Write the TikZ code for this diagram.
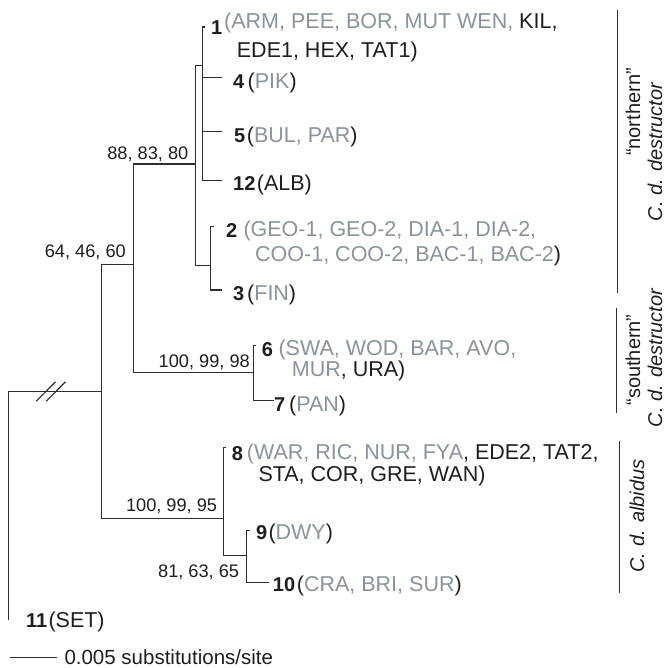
\documentclass[tikz,border=0pt]{standalone}
\usepackage{fontspec}
\setmainfont{Liberation Sans}
\definecolor{tg}{RGB}{136,147,156}
\definecolor{tk}{RGB}{30,30,30}
\definecolor{ln}{RGB}{45,45,45}
\newcommand{\gy}[1]{\textcolor{tg}{#1}}
\begin{document}
\begin{tikzpicture}[x=1pt,y=-1pt,
  br/.style={draw=ln, line width=1.2pt, line cap=rect},
  barline/.style={draw=ln, line width=1pt},
  tipnum/.style={font=\fontsize{20}{23}\selectfont\bfseries, text=tk, inner sep=0pt, anchor=base west},
  tiptxt/.style={font=\fontsize{21.5}{25}\selectfont, text=tk, inner sep=0pt, anchor=base west},
  supp/.style={font=\fontsize{18.2}{21}\selectfont, text=tk, inner sep=0pt, anchor=base east},
  grp/.style={font=\fontsize{20}{24}\selectfont, text=tk, inner sep=0pt, rotate=90, anchor=base},
]
\useasboundingbox (0,0) rectangle (666,668);

% internal nodes
\coordinate (R) at (8.3,391.3);
\coordinate (A) at (101.7,391.3);
\coordinate (B) at (133.3,264.3);
\coordinate (C) at (195.7,164);
\coordinate (D) at (202.7,65.7);
\coordinate (E) at (210.7,265.7);
\coordinate (S) at (253.3,372.3);
\coordinate (Al) at (223.3,518.3);
\coordinate (F) at (246.7,555.7);
% tips
\coordinate (T1) at (204.5,27);
\coordinate (T4) at (221.7,77.7);
\coordinate (T5) at (221.7,131.7);
\coordinate (T12) at (221.7,180.3);
\coordinate (T2) at (213.5,226.7);
\coordinate (T3) at (221.7,290);
\coordinate (T6) at (255.5,345.7);
\coordinate (T7) at (273.3,400.7);
\coordinate (T8) at (225.5,447.3);
\coordinate (T9) at (249,530.7);
\coordinate (T10) at (268.3,582.3);
\coordinate (T11) at (8.3,619);

% horizontal branches
\foreach \p/\c in {R/A, A/B, A/Al, B/C, B/S, C/D, C/E, D/T1, D/T4, D/T5, D/T12,
                   E/T2, E/T3, S/T6, S/T7, Al/T8, Al/F, F/T9, F/T10}
  \draw[br] (\p |- \c) -- (\c);
% vertical connectors
\foreach \p/\a/\b in {R/A/T11, A/B/Al, B/C/S, C/D/E, D/T1/T12, E/T2/T3, S/T6/T7, Al/T8/F, F/T9/T10}
  \draw[br] (\p |- \a) -- (\p |- \b);

% break marks
\coordinate (k1a) at (36.7,400.7); \coordinate (k1b) at (55,382.3);
\coordinate (k2a) at (46.7,400.7); \coordinate (k2b) at (65,382.3);
\draw[br] (k1a) -- (k1b);
\draw[br] (k2a) -- (k2b);

% tip labels
\node[tipnum] (n1) at (211,35) {1};
\node[tiptxt] (l1a) at (224,29) {\gy{(ARM, PEE, BOR, MUT WEN,} KIL,};
\node[tiptxt] (l1b) at (236.7,58) {EDE1, HEX, TAT1)};
\node[tipnum] (n4) at (233,89) {4};
\node[tiptxt] (l4) at (247.5,89) {(\gy{PIK})};
\node[tipnum] (n5) at (234,143) {5};
\node[tiptxt] (l5) at (246.7,143) {(\gy{BUL, PAR})};
\node[tipnum] (n12) at (233,190) {12};
\node[tiptxt] (l12) at (256.7,190) {(ALB)};
\node[tipnum] (n2) at (226,237) {2};
\node[tiptxt] (l2a) at (243.3,236) {\gy{(GEO-1, GEO-2, DIA-1, DIA-2,}};
\node[tiptxt] (l2b) at (255,261) {\gy{COO-1, COO-2, BAC-1, BAC-2})};
\node[tipnum] (n3) at (233,300) {3};
\node[tiptxt] (l3) at (247,300) {(\gy{FIN})};
\node[tipnum] (n6) at (261.7,356) {6};
\node[tiptxt] (l6a) at (278.3,355) {\gy{(SWA, WOD, BAR, AVO,}};
\node[tiptxt] (l6b) at (291.7,376) {\gy{MUR}, URA)};
\node[tipnum] (n7) at (274,411) {7};
\node[tiptxt] (l7) at (289,411) {(\gy{PAN})};
\node[tipnum] (n8) at (231.7,460) {8};
\node[tiptxt] (l8a) at (246.7,459) {\gy{(WAR, RIC, NUR, FYA}, EDE2, TAT2,};
\node[tiptxt] (l8b) at (258.3,481) {STA, COR, GRE, WAN)};
\node[tipnum] (n9) at (256,539) {9};
\node[tiptxt] (l9) at (268.3,539) {(\gy{DWY})};
\node[tipnum] (n10) at (272.7,591) {10};
\node[tiptxt] (l10) at (296.7,591) {(\gy{CRA, BRI, SUR})};
\node[tipnum] (n11) at (26,627) {11};
\node[tiptxt] (l11) at (48.3,627) {(SET)};

% support values
\node[supp] (s1) at (188.5,160) {88, 83, 80};
\node[supp] (s2) at (126,257) {64, 46, 60};
\node[supp] (s3) at (250,367) {100, 99, 98};
\node[supp] (s4) at (217.3,511) {100, 99, 95};
\node[supp] (s5) at (239.3,577) {81, 63, 65};

% scale bar
\coordinate (sc1) at (10,657.3);
\coordinate (sc2) at (56.7,657.3);
\draw[barline] (sc1) -- (sc2);
\node[tiptxt, font=\fontsize{20.5}{24}\selectfont] (sct) at (64.3,664) {0.005 substitutions/site};

% group bars
\coordinate (gN1) at (617,10);  \coordinate (gN2) at (617,293);
\coordinate (gS1) at (616,308); \coordinate (gS2) at (616,413);
\coordinate (gA1) at (619,441); \coordinate (gA2) at (619,593);
\draw[barline] (gN1) -- (gN2);
\draw[barline] (gS1) -- (gS2);
\draw[barline] (gA1) -- (gA2);

\node[grp] (gn1) at (640,112) {``northern''};
\node[grp] (gn2) at (662,152) {\itshape C. d. destructor};
\node[grp] (gs1) at (640,360) {``southern''};
\node[grp] (gs2) at (662,358) {\itshape C. d. destructor};
\node[grp] (ga1) at (644,516) {\itshape C. d. albidus};
\end{tikzpicture}
\end{document}
